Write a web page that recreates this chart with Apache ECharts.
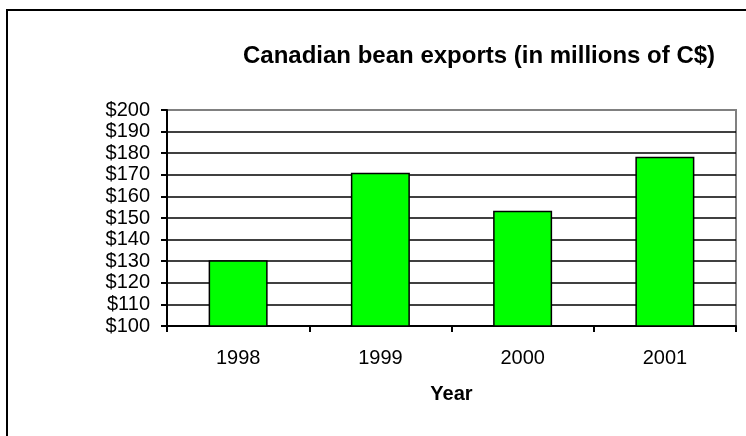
<!DOCTYPE html>
<html>
<head>
<meta charset="utf-8">
<script src="https://cdn.jsdelivr.net/npm/echarts@6/dist/echarts.min.js"></script>
<style>
  html, body { margin: 0; padding: 0; background: #fff; }
  #chart { width: 746px; height: 436px; }
</style>
</head>
<body>
<div id="chart"></div>
<script>
// values
var years = ["1998", "1999", "2000", "2001"];
var exports = [130.4, 170.9, 153.4, 178.4];
var yMin = 100;
var yMax = 200;
var yStep = 10;

var font = "Liberation Sans, Arial, sans-serif";

var chart = echarts.init(document.getElementById("chart"));

chart.setOption({
  animation: false,
  title: {
    text: "Canadian bean exports (in millions of C$)",
    left: 238,
    top: 39,
    textStyle: {
      fontFamily: font,
      fontSize: 24,
      fontWeight: "bold",
      color: "#000"
    }
  },
  grid: {
    left: 167,
    right: 10,
    top: 110,
    height: 216,
    show: true,
    borderColor: "#808080",
    borderWidth: 2,
    backgroundColor: "transparent"
  },
  graphic: [
    {
      type: "rect",
      shape: { x: 7, y: 10, width: 800, height: 500 },
      style: { fill: "none", stroke: "#000", lineWidth: 2 },
      silent: true
    }
  ],
  xAxis: {
    type: "category",
    data: years,
    name: "Year",
    nameLocation: "middle",
    nameGap: 58,
    nameTextStyle: {
      fontFamily: font,
      fontSize: 20,
      fontWeight: "bold",
      color: "#000"
    },
    axisLine: { lineStyle: { color: "#000", width: 2 } },
    axisTick: { show: true, length: 6, lineStyle: { color: "#000", width: 2 } },
    axisLabel: {
      margin: 22,
      fontFamily: font,
      fontSize: 20,
      color: "#000"
    }
  },
  yAxis: {
    type: "value",
    min: yMin,
    max: yMax,
    interval: yStep,
    axisLine: { show: true, lineStyle: { color: "#000", width: 2 } },
    axisTick: { show: true, length: 6, lineStyle: { color: "#000", width: 2 } },
    splitLine: {
      show: true,
      showMaxLine: false,
      lineStyle: { color: "#000", width: 1.5 }
    },
    axisLabel: {
      margin: 17,
      fontFamily: font,
      fontSize: 20,
      color: "#000",
      formatter: function (v) { return "$" + v; }
    }
  },
  series: [
    {
      type: "bar",
      data: exports,
      barWidth: 59,
      itemStyle: {
        color: "#00ff00",
        borderColor: "#000",
        borderWidth: 1.5
      }
    }
  ]
});
</script>
</body>
</html>
